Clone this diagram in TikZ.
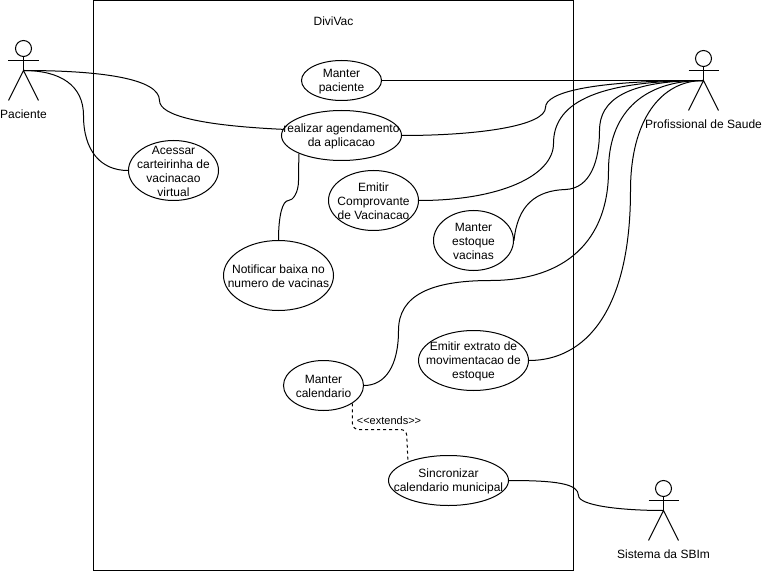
\documentclass[tikz,border=0pt]{standalone}
\usepackage{fontspec}
\setmainfont{Liberation Sans}
\usetikzlibrary{shapes.geometric}

\begin{document}
\begin{tikzpicture}[x=1pt, y=-1pt, line width=1pt,
    font=\fontsize{12}{14}\selectfont,
    usecase/.style n args = {3}{draw, ellipse, inner sep=0pt, minimum width=#1pt, minimum height=#2pt,
        label={[align=center, inner sep=0pt, yshift=-0.7pt]center:#3}},
    head/.style = {draw, circle, inner sep=0pt, minimum size=16pt}]
        \useasboundingbox (-0.5,-0.5) rectangle (762.5,571.5);

        \node[draw, minimum width=480pt, minimum height=570pt, inner sep=0pt] (sistema) at (333,285) {};
        \node (titulo) at (333,20.5) {DiviVac};

        \node[usecase={80}{40}{Manter\\paciente}] (paciente) at (341,80) {};
        \node[usecase={120}{50}{realizar agendamento\\da aplicacao}] (agendamento) at (341,135) {};
        \node[usecase={90}{60}{Acessar\\carteirinha de\\vacinacao\\virtual}] (carteirinha) at (173,170) {};
        \node[usecase={90}{60}{Emitir\\Comprovante\\de Vacinacao}] (comprovante) at (373,200) {};
        \node[usecase={80}{60}{Manter\\estoque\\vacinas}] (estoque) at (473,240) {};
        \node[usecase={110}{70}{Notificar baixa no\\numero de vacinas}] (notificar) at (278,275) {};
        \node[usecase={110}{60}{Emitir extrato de\\movimentacao de\\estoque}] (extrato) at (473,360) {};
        \node[usecase={80}{50}{Manter\\calendario}] (calendario) at (323,385) {};
        \node[usecase={120}{50}{Sincronizar\\calendario municipal}] (sincronizar) at (448,480) {};

        % actors
        \foreach \name/\px/\py/\lab in {pac/23/40/Paciente, prof/703/50/Profissional de Saude, sbim/663/480/Sistema da SBIm} {
            \node[head] (\name head) at (\px,\py+8) {};
            \coordinate (\name) at (\px,\py+30);
            \draw (\name head.south) -- (\name);
            \draw (\px-15,\py+20) -- (\px+15,\py+20);
            \draw (\px-15,\py+60) -- (\name) -- (\px+15,\py+60);
            \node (\name text) at (\px,\py+73.5) {\lab};
        }

        \draw (pac) .. controls (100,70) and (159,78) .. (159,100)
            .. controls (159,115) and (200,125) .. (agendamento.174);
        \draw (pac) .. controls (60,70) and (83,85) .. (83,115)
            .. controls (83,150) and (100,170) .. (carteirinha.west);

        \draw (paciente.east) -- (prof);
        \draw (agendamento.east) .. controls (480,135) and (545,125) .. (545,107)
            .. controls (545,92) and (590,80) .. (prof);
        \draw (comprovante.east) .. controls (500,200) and (553,175) .. (553,143)
            .. controls (553,105) and (590,80) .. (prof);
        \draw (estoque.east) .. controls (517,205) and (535,190) .. (565,189)
            .. controls (590,188) and (599,160) .. (599,130)
            .. controls (599,100) and (625,80) .. (prof);
        \draw (calendario.east) .. controls (385,385) and (398,365) .. (398,330)
            .. controls (398,295) and (430,280) .. (490,280)
            .. controls (565,280) and (608,240) .. (608,170)
            .. controls (608,115) and (640,80) .. (prof);
        \draw (extrato.east) .. controls (585,360) and (630,310) .. (630,190)
            .. controls (630,120) and (660,80) .. (prof);

        \draw (agendamento.-157) -- (298,180) .. controls (298,193) and (292,200) .. (288,200)
            .. controls (282,200) and (278,215) .. (notificar.north);

        \draw (sincronizar.east) .. controls (555,480) and (578,483) .. (578,495)
            .. controls (578,505) and (620,510) .. (sbim);

        \draw[dashed, rounded corners=6pt] (calendario.-32) -- (352,429) -- (406,429) -- (sincronizar.155);
        \node[font=\fontsize{11}{13}\selectfont] (extends) at (388.5,420.5) {{<}{<}extends{>}{>}};
    \end{tikzpicture}
\end{document}
